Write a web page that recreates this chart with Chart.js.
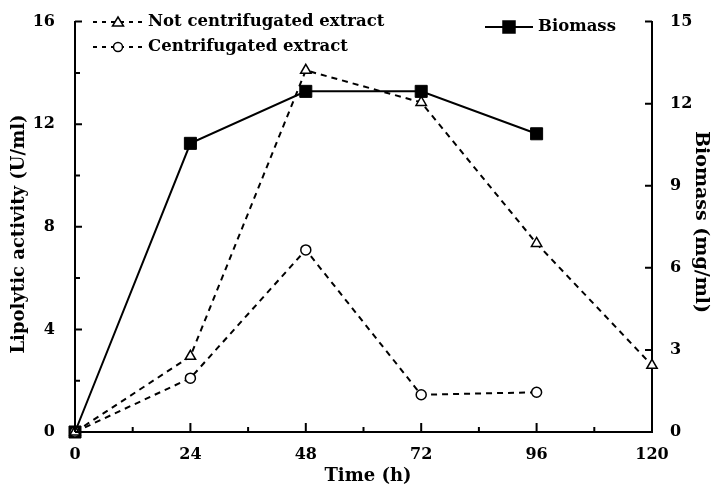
<!DOCTYPE html>
<html>
<head>
<meta charset="utf-8">
<script src="https://cdn.jsdelivr.net/npm/chart.js@4/dist/chart.umd.min.js"></script>
<style>
  html, body { margin: 0; padding: 0; background: #fff; }
  #wrap { width: 712px; height: 488px; position: relative; }
</style>
</head>
<body>
<div id="wrap"><canvas id="chart"></canvas></div>
<script>
"use strict";
// Time points (h)
const TIME = [0, 24, 48, 72, 96, 120];
const TIME_BIOMASS = [0, 24, 48, 72, 96];
// Lipolytic activity (U/ml)
const NOT_CENTRIFUGATED = [0, 2.95, 14.1, 12.85, 7.35, 2.6];
const CENTRIFUGATED = [0, 2.1, 7.1, 1.45, 1.55];
// Biomass (mg/ml)
const BIOMASS = [0, 10.55, 12.45, 12.45, 10.9];

const X_MAJOR = [0, 24, 48, 72, 96, 120];
const X_MINOR = [12, 36, 60, 84, 108];
const Y_MAJOR = [0, 4, 8, 12, 16];
const Y_MINOR = [2, 6, 10, 14];
const Y1_MAJOR = [0, 3, 6, 9, 12, 15];

const FONT = "'DejaVu Serif', 'Liberation Serif', serif";
const INK = "#000";
const DASH = [6, 5];

const pts = (xs, ys) => ys.map((y, i) => ({ x: xs[i], y }));

/* ── inward ticks, axis titles, legend ───────────────────────── */
const decorations = {
  id: "decorations",
  afterDraw(chart) {
    const { ctx, chartArea: a, scales } = chart;
    const x = scales.x, y = scales.y, y1 = scales.y1;
    ctx.save();
    ctx.strokeStyle = INK;
    ctx.lineWidth = 2;
    ctx.setLineDash([]);
    ctx.beginPath();
    X_MAJOR.forEach(v => { const p = x.getPixelForValue(v); ctx.moveTo(p, a.bottom); ctx.lineTo(p, a.bottom - 9); });
    X_MINOR.forEach(v => { const p = x.getPixelForValue(v); ctx.moveTo(p, a.bottom); ctx.lineTo(p, a.bottom - 5); });
    Y_MAJOR.forEach(v => { const p = y.getPixelForValue(v); ctx.moveTo(a.left, p); ctx.lineTo(a.left + 7, p); });
    Y_MINOR.forEach(v => { const p = y.getPixelForValue(v); ctx.moveTo(a.left, p); ctx.lineTo(a.left + 5, p); });
    Y1_MAJOR.forEach(v => { const p = y1.getPixelForValue(v); ctx.moveTo(a.right, p); ctx.lineTo(a.right - 7, p); });
    ctx.stroke();

    // axis titles
    ctx.fillStyle = INK;
    ctx.textAlign = "center";
    ctx.textBaseline = "middle";
    ctx.font = "bold 18px " + FONT;
    ctx.fillText("Time (h)", 368, 476);
    ctx.save();
    ctx.translate(19, 234);
    ctx.rotate(-Math.PI / 2);
    ctx.fillText("Lipolytic activity (U/ml)", 0, 0);
    ctx.restore();
    ctx.font = "bold 19px " + FONT;
    ctx.save();
    ctx.translate(701, 222);
    ctx.rotate(Math.PI / 2);
    ctx.fillText("Biomass (mg/ml)", 0, 0);
    ctx.restore();

    // legend
    const item = (x0, x1, yy, dashed, style, label) => {
      ctx.lineWidth = 2;
      ctx.setLineDash(dashed ? [4, 5] : []);
      ctx.beginPath(); ctx.moveTo(x0, yy); ctx.lineTo(x1, yy); ctx.stroke();
      ctx.setLineDash([]);
      const cx = (x0 + x1) / 2;
      ctx.lineWidth = 1.5;
      ctx.fillStyle = style === "rect" ? INK : "#fff";
      ctx.beginPath();
      if (style === "rect") ctx.rect(cx - 6, yy - 6, 12, 12);
      else if (style === "circle") ctx.arc(cx, yy, 4.5, 0, Math.PI * 2);
      else { ctx.moveTo(cx, yy - 5); ctx.lineTo(cx + 5.5, yy + 4); ctx.lineTo(cx - 5.5, yy + 4); ctx.closePath(); }
      ctx.fill(); ctx.stroke();
      ctx.fillStyle = INK;
      ctx.textAlign = "left";
      ctx.fillText(label, x1 + 5, yy);
    };
    ctx.font = "bold 16.5px " + FONT;
    item(93, 143, 22, true, "triangle", "Not centrifugated extract");
    item(93, 143, 47, true, "circle", "Centrifugated extract");
    item(485, 533, 27, false, "rect", "Biomass");
    ctx.restore();
  },
};

const TICK_FONT = { family: FONT, size: 16, weight: "bold" };

new Chart(document.getElementById("chart"), {
  type: "line",
  data: {
    datasets: [
      {
        label: "Not centrifugated extract",
        data: pts(TIME, NOT_CENTRIFUGATED),
        yAxisID: "y",
        borderColor: INK, borderWidth: 2, borderDash: DASH,
        pointStyle: "triangle", pointRadius: 6, pointBorderWidth: 1.5,
        pointBackgroundColor: "#fff", pointBorderColor: INK,
        tension: 0, clip: false,
      },
      {
        label: "Centrifugated extract",
        data: pts(TIME, CENTRIFUGATED),
        yAxisID: "y",
        borderColor: INK, borderWidth: 2, borderDash: DASH,
        pointStyle: "circle", pointRadius: 5, pointBorderWidth: 1.5,
        pointBackgroundColor: "#fff", pointBorderColor: INK,
        tension: 0, clip: false,
      },
      {
        label: "Biomass",
        data: pts(TIME_BIOMASS, BIOMASS),
        yAxisID: "y1",
        borderColor: INK, borderWidth: 2,
        pointStyle: "rect", pointRadius: 8.5, pointBorderWidth: 1,
        pointBackgroundColor: INK, pointBorderColor: INK,
        tension: 0, clip: false,
      },
    ],
  },
  options: {
    responsive: true,
    maintainAspectRatio: false,
    animation: false,
    layout: { padding: { top: 18, left: 0, right: 0, bottom: 0 } },
    plugins: { legend: { display: false }, tooltip: { enabled: false } },
    scales: {
      x: {
        type: "linear", min: 0, max: 120,
        afterFit: s => { s.height = 56; },
        afterBuildTicks: s => { s.ticks = X_MAJOR.map(v => ({ value: v })); },
        grid: { display: false },
        border: { display: true, color: INK, width: 2 },
        ticks: { color: INK, padding: 5, font: TICK_FONT },
      },
      y: {
        position: "left", min: 0, max: 16,
        afterFit: s => { s.width = 75; },
        afterBuildTicks: s => { s.ticks = Y_MAJOR.map(v => ({ value: v })); },
        grid: { display: false },
        border: { display: true, color: INK, width: 2 },
        ticks: { color: INK, padding: 12, font: TICK_FONT },
      },
      y1: {
        position: "right", min: 0, max: 15,
        afterFit: s => { s.width = 60; },
        afterBuildTicks: s => { s.ticks = Y1_MAJOR.map(v => ({ value: v })); },
        grid: { display: false },
        border: { display: true, color: INK, width: 2 },
        ticks: { color: INK, padding: 10, font: TICK_FONT },
      },
    },
  },
  plugins: [decorations],
});
</script>
</body>
</html>
